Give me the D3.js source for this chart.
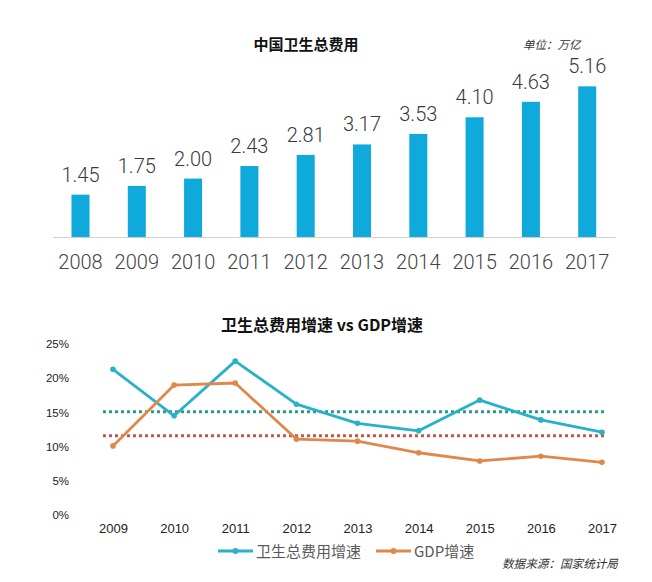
<!DOCTYPE html>
<html><head><meta charset="utf-8">
<script src="https://cdn.jsdelivr.net/npm/d3@7"></script>
<style>
html,body{margin:0;padding:0;background:#fff;}
svg{display:block;}
</style>
</head><body>
<svg id="c" width="652" height="582"></svg>
<script>
// Top chart data
const years = ["2008","2009","2010","2011","2012","2013","2014","2015","2016","2017"];
const totalSpend = [1.45,1.75,2.00,2.43,2.81,3.17,3.53,4.10,4.63,5.16];
const topTitle = "中国卫生总费用";
const unitLabel = "单位：万亿";

// Bottom chart data
const growthYears = ["2009","2010","2011","2012","2013","2014","2015","2016","2017"];
const healthGrowth = [21.3,14.5,22.5,16.2,13.4,12.3,16.8,13.9,12.1];
const gdpGrowth = [10.1,19.0,19.3,11.1,10.8,9.1,7.9,8.6,7.7];
const healthRef = 15.1;
const gdpRef = 11.6;
const yTicks = [0,5,10,15,20,25];
const bottomTitle = "卫生总费用增速 vs GDP增速";
const seriesNames = ["卫生总费用增速","GDP增速"];
const sourceLabel = "数据来源：国家统计局";

const CJK = "'Noto Sans CJK SC','Noto Sans',sans-serif";
const svg = d3.select("#c");

// ---------- Top bar chart ----------
const xb = d3.scaleBand().domain(years).range([52.35,615.35]).paddingInner(0.68).paddingOuter(0.34);
const yb = d3.scaleLinear().domain([0,6]).range([237,237-29.2*6]);

svg.append("text").attr("x",306).attr("y",50).attr("text-anchor","middle")
  .attr("font-family",CJK).attr("font-weight","bold").attr("font-size",15).attr("fill","#111").text(topTitle);
svg.append("text").attr("x",523).attr("y",49).attr("text-anchor","start")
  .attr("font-family",CJK).attr("font-style","italic").attr("font-size",11.5).attr("fill","#333").text(unitLabel);

svg.append("line").attr("x1",53).attr("x2",616).attr("y1",yb(0)+0.5).attr("y2",yb(0)+0.5)
  .attr("stroke","#d0d0d0").attr("stroke-width",1);

svg.selectAll("rect.bar").data(totalSpend).join("rect").attr("class","bar")
  .attr("x",(d,i)=>xb(years[i])).attr("width",xb.bandwidth())
  .attr("y",d=>yb(d)).attr("height",d=>yb(0)-yb(d)).attr("fill","#0fa9dc");

svg.selectAll("text.val").data(totalSpend).join("text").attr("class","val")
  .attr("x",(d,i)=>xb(years[i])+xb.bandwidth()/2).attr("y",d=>yb(d)-13)
  .attr("text-anchor","middle").attr("font-family","Roboto,sans-serif").attr("font-weight",300)
  .attr("font-size",20).attr("fill","#3a3a3a").text(d=>d.toFixed(2));

const xAxisTop = svg.append("g").attr("transform",`translate(0,${yb(0)})`)
  .call(d3.axisBottom(xb).tickSize(0).tickPadding(18));
xAxisTop.select(".domain").remove();
xAxisTop.selectAll("text").attr("font-family","Roboto,sans-serif").attr("font-weight",300)
  .attr("font-size",20).attr("fill","#444");

// ---------- Bottom line chart ----------
const xl = d3.scalePoint().domain(growthYears).range([113,602]);
const yl = d3.scaleLinear().domain([0,25]).range([515,344]);

svg.append("text").attr("x",322).attr("y",331).attr("text-anchor","middle")
  .attr("font-family",CJK).attr("font-weight","bold").attr("font-size",16).attr("fill","#111").text(bottomTitle);

const yAxis = svg.append("g").attr("transform","translate(69,0)")
  .call(d3.axisLeft(yl).tickValues(yTicks).tickSize(0).tickPadding(0).tickFormat(d=>d+"%"));
yAxis.select(".domain").remove();
yAxis.selectAll("text").attr("font-family","'Liberation Sans',Arial,sans-serif")
  .attr("font-size",11.5).attr("fill","#222");

const xAxisB = svg.append("g").attr("transform","translate(0,515)")
  .call(d3.axisBottom(xl).tickSize(0).tickPadding(9));
xAxisB.select(".domain").remove();
xAxisB.selectAll("text").attr("font-family","'Liberation Sans',Arial,sans-serif")
  .attr("font-size",13).attr("fill","#222");

// reference dotted lines
[[healthRef,"#2a9a8c"],[gdpRef,"#c0594c"]].forEach(([v,c])=>{
  svg.append("line").attr("x1",103).attr("x2",604).attr("y1",yl(v)).attr("y2",yl(v))
    .attr("stroke",c).attr("stroke-width",3).attr("stroke-dasharray","3,3");
});

const line = d3.line().x((d,i)=>xl(growthYears[i])).y(d=>yl(d));
const series = [[healthGrowth,"#27b2c8"],[gdpGrowth,"#e0884a"]];
series.forEach(([data,c])=>{
  svg.append("path").datum(data).attr("d",line).attr("fill","none")
    .attr("stroke",c).attr("stroke-width",2.8).attr("stroke-linejoin","round");
  svg.append("g").selectAll("circle").data(data).join("circle")
    .attr("cx",(d,i)=>xl(growthYears[i])).attr("cy",d=>yl(d)).attr("r",2.8).attr("fill",c);
});

// legend
const legendItems = [[218,"#27b2c8",seriesNames[0]],[376,"#e0884a",seriesNames[1]]];
legendItems.forEach(([x,c,t])=>{
  svg.append("line").attr("x1",x).attr("x2",x+35).attr("y1",551).attr("y2",551)
    .attr("stroke",c).attr("stroke-width",3);
  svg.append("circle").attr("cx",x+17.5).attr("cy",551).attr("r",3).attr("fill",c);
  svg.append("text").attr("x",x+38).attr("y",556.5).attr("font-family",CJK)
    .attr("font-size",15).attr("fill","#595959").text(t);
});

svg.append("text").attr("x",502).attr("y",567.5).attr("font-family",CJK).attr("font-style","italic")
  .attr("font-size",11.6).attr("fill","#333").text(sourceLabel);
</script>
</body></html>
